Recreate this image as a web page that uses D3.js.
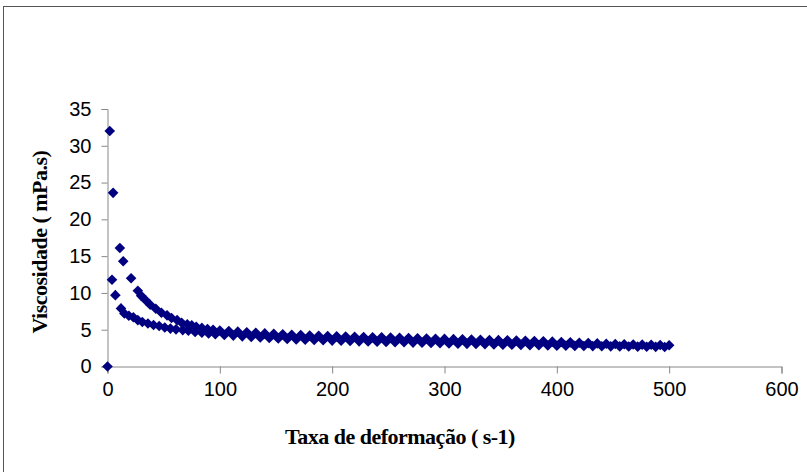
<!DOCTYPE html>
<html>
<head>
<meta charset="utf-8">
<script src="https://cdn.jsdelivr.net/npm/d3@7"></script>
<style>
  body { margin: 0; background: #fff; }
</style>
</head>
<body>
<script>
let width = 807
let height = 472

// ramo superior (viscosidade mais alta a baixas taxas)
const taxaA = [2, 5, 11, 14, 21, 27, 30, 34, 38, 43, 48, 53, 57, 62, 66, 71, 75, 79, 84, 89, 94,
  100, 108, 116, 124, 132, 140, 148, 156, 164, 172, 180, 188, 196, 204, 212, 220, 228, 236, 244, 252,
  260, 268, 276, 284, 292, 300, 308, 316, 324, 332, 340, 348, 356, 364, 372, 380, 388, 396, 404, 412,
  420, 428, 436, 444, 452, 460, 468, 476, 484, 492, 500]
const viscA = [32, 23.6, 16.1, 14.3, 12.0, 10.3, 9.6, 9.0, 8.4, 7.85, 7.3, 6.95, 6.6, 6.3, 5.95, 5.75, 5.6, 5.4, 5.25, 5.1, 4.98,
  4.9, 4.82, 4.74, 4.66, 4.58, 4.5, 4.44, 4.38, 4.32, 4.27, 4.22, 4.18, 4.14, 4.1, 4.07, 4.04, 4.01, 3.98, 3.96, 3.93,
  3.9, 3.87, 3.84, 3.81, 3.78, 3.75, 3.72, 3.69, 3.66, 3.63, 3.6, 3.58, 3.56, 3.53, 3.5, 3.47, 3.43, 3.38, 3.33, 3.28,
  3.23, 3.18, 3.14, 3.1, 3.06, 3.03, 3.0, 2.97, 2.95, 2.92, 2.88]

// ramo inferior
const taxaB = [0, 4, 7, 12, 15, 19, 23, 27, 31, 36, 41, 46, 51, 56, 61, 67, 72, 78, 84, 90, 96,
  104, 112, 120, 128, 136, 144, 152, 160, 168, 176, 184, 192, 200, 208, 216, 224, 232, 240, 248, 256,
  264, 272, 280, 288, 296, 304, 312, 320, 328, 336, 344, 352, 360, 368, 376, 384, 392, 400, 408, 416,
  424, 432, 440, 448, 456, 464, 472, 480, 488, 496]
const viscB = [0, 11.8, 9.7, 7.9, 7.2, 6.9, 6.7, 6.3, 6.05, 5.85, 5.65, 5.5, 5.3, 5.15, 5.05, 4.95, 4.85, 4.7, 4.6, 4.5, 4.4,
  4.28, 4.2, 4.1, 4.02, 3.94, 3.87, 3.8, 3.75, 3.68, 3.64, 3.6, 3.56, 3.52, 3.49, 3.46, 3.42, 3.4, 3.37, 3.34, 3.31,
  3.29, 3.25, 3.22, 3.19, 3.17, 3.13, 3.1, 3.08, 3.05, 3.02, 2.99, 2.97, 2.95, 2.92, 2.9, 2.88, 2.85, 2.83, 2.82, 2.8,
  2.79, 2.77, 2.76, 2.74, 2.73, 2.71, 2.7, 2.68, 2.67, 2.66]

const xTicks = [0, 100, 200, 300, 400, 500, 600]
const yTicks = [0, 5, 10, 15, 20, 25, 30, 35]

const svg = d3.select("body")
    .append('svg')
    .attr('width', width)
    .attr('height', height)

// moldura do gráfico
svg.append('rect')
    .attr('x', 3.5)
    .attr('y', 6.5)
    .attr('width', 900)
    .attr('height', 600)
    .attr('fill', 'none')
    .attr('stroke', '#555')

const x = d3.scaleLinear().domain([0, 600]).range([107.5, 781.5])
const y = d3.scaleLinear().domain([0, 35]).range([366.5, 109])

const xAxis = svg.append('g')
    .attr('transform', 'translate(0,' + y(0) + ')')
    .call(d3.axisBottom(x).tickValues(xTicks).tickSize(7).tickPadding(8))
const yAxis = svg.append('g')
    .attr('transform', 'translate(' + x(0) + ',0)')
    .call(d3.axisLeft(y).tickValues(yTicks).tickSize(6).tickPadding(10))

for (const ax of [xAxis, yAxis]) {
  ax.select('.domain').attr('stroke', '#888')
  ax.selectAll('.tick line').attr('stroke', '#888')
  ax.selectAll('.tick text')
    .attr('fill', '#000')
    .style('font-family', 'Liberation Sans, Arial, sans-serif')
    .style('font-size', '20px')
}

const diamond = 'M0,-5.3L5.3,0L0,5.3L-5.3,0Z'
const pontos = taxaA.map((t, i) => [t, viscA[i]]).concat(taxaB.map((t, i) => [t, viscB[i]]))

svg.append('g').selectAll('path')
    .data(pontos)
    .enter()
    .append('path')
      .attr('d', diamond)
      .attr('transform', d => 'translate(' + x(d[0]) + ',' + y(d[1]) + ')')
      .attr('fill', '#000080')

svg.append('text')
    .attr('x', 400)
    .attr('y', 444)
    .attr('text-anchor', 'middle')
    .style('font-family', 'Liberation Serif, Times New Roman, serif')
    .style('font-weight', 'bold')
    .style('font-size', '22px')
    .style('letter-spacing', '-0.5px')
    .text('Taxa de deformação ( s-1)')

svg.append('text')
    .attr('transform', 'translate(47,242) rotate(-90)')
    .attr('text-anchor', 'middle')
    .style('font-family', 'Liberation Serif, Times New Roman, serif')
    .style('font-weight', 'bold')
    .style('font-size', '22px')
    .style('letter-spacing', '-0.5px')
    .text('Viscosidade ( mPa.s)')
</script>
</body>
</html>
